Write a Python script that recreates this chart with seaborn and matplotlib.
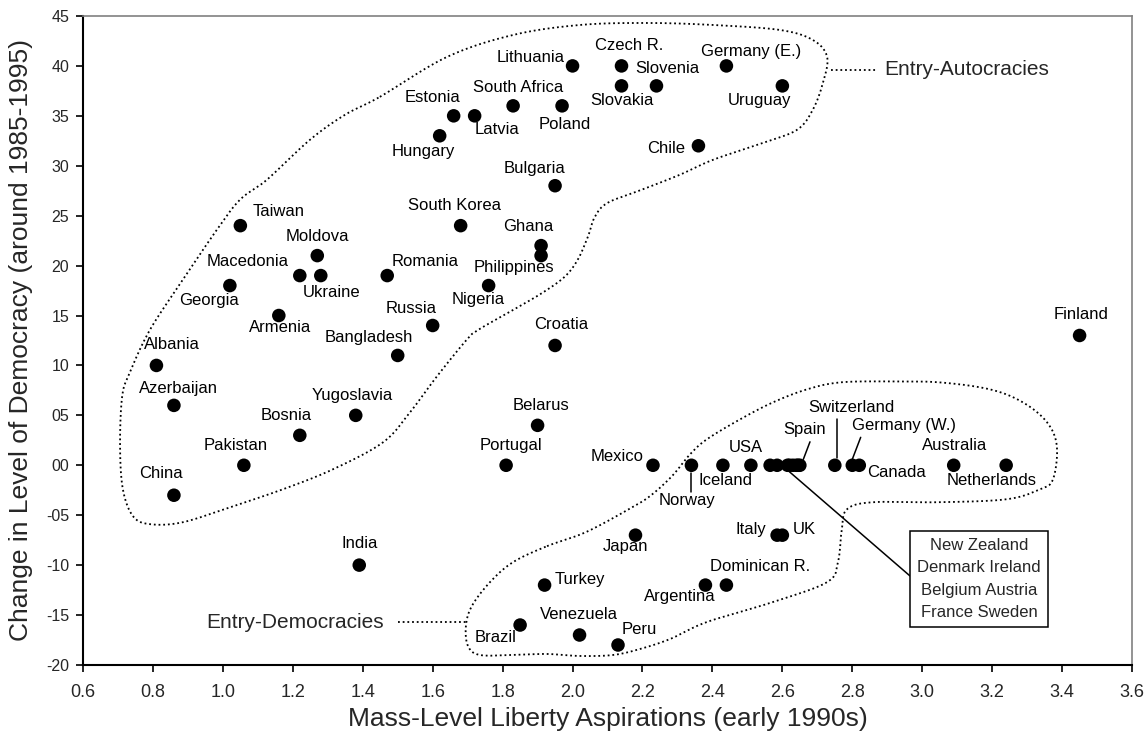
import numpy as np
import pandas as pd
import matplotlib
matplotlib.use("Agg")
import matplotlib.pyplot as plt
from matplotlib.ticker import FuncFormatter, MultipleLocator
import seaborn as sns

# --- data ---
countries = [
    "Lithuania", "Czech R.", "Slovakia", "Slovenia", "Germany (E.)", "Uruguay",
    "Chile", "Poland", "South Africa", "Latvia", "Estonia", "Hungary",
    "Bulgaria", "Taiwan", "South Korea", "Ghana", "Philippines", "Moldova",
    "Macedonia", "Ukraine", "Romania", "Georgia", "Nigeria", "Armenia",
    "Russia", "Croatia", "Bangladesh", "Albania", "Finland", "Azerbaijan",
    "Yugoslavia", "Belarus", "Bosnia", "Pakistan", "Portugal", "China",
    "India", "Mexico", "Norway", "Iceland", "USA", "New Zealand", "Denmark",
    "Ireland", "Belgium", "Austria", "France", "Sweden", "Spain",
    "Switzerland", "Germany (W.)", "Canada", "Australia", "Netherlands",
    "Japan", "Italy", "UK", "Argentina", "Dominican R.", "Turkey", "Brazil",
    "Venezuela", "Peru",
]
liberty = [
    2.00, 2.14, 2.14, 2.24, 2.44, 2.60,
    2.36, 1.97, 1.83, 1.72, 1.66, 1.62,
    1.95, 1.05, 1.68, 1.91, 1.91, 1.27,
    1.22, 1.28, 1.47, 1.02, 1.76, 1.16,
    1.60, 1.95, 1.50, 0.81, 3.45, 0.86,
    1.38, 1.90, 1.22, 1.06, 1.81, 0.86,
    1.39, 2.23, 2.34, 2.43, 2.51, 2.565, 2.585,
    2.615, 2.62, 2.63, 2.64, 2.645, 2.65,
    2.75, 2.80, 2.82, 3.09, 3.24,
    2.18, 2.585, 2.60, 2.38, 2.44, 1.92, 1.85,
    2.02, 2.13,
]
democracy_change = [
    40, 40, 38, 38, 40, 38,
    32, 36, 36, 35, 35, 33,
    28, 24, 24, 22, 21, 21,
    19, 19, 19, 18, 18, 15,
    14, 12, 11, 10, 13, 6,
    5, 4, 3, 0, 0, -3,
    -10, 0, 0, 0, 0, 0, 0,
    0, 0, 0, 0, 0, 0,
    0, 0, 0, 0, 0,
    -7, -7, -7, -12, -12, -12, -16,
    -17, -18,
]
box_countries = "New Zealand\nDenmark Ireland\nBelgium Austria\nFrance Sweden"

# label offsets from the dot, in points: (dx, dy, ha)
label_offsets = {
    "Lithuania": (-5.5, 6.0, "right"),
    "Czech R.": (5.5, 14.6, "center"),
    "Slovakia": (0, -10.8, "center"),
    "Slovenia": (7.7, 12.2, "center"),
    "Germany (E.)": (17.6, 10.3, "center"),
    "Uruguay": (-16.2, -10.8, "center"),
    "Chile": (-9.4, -1.7, "right"),
    "Poland": (1.9, -13.2, "center"),
    "South Africa": (3.9, 13.5, "center"),
    "Latvia": (16.3, -10.1, "center"),
    "Estonia": (-15.3, 13.5, "center"),
    "Hungary": (-12, -11.3, "center"),
    "Bulgaria": (-14.6, 12.7, "center"),
    "Taiwan": (27.6, 10.3, "center"),
    "South Korea": (-4.2, 14.6, "center"),
    "Ghana": (-9.4, 13.9, "center"),
    "Philippines": (-19.9, -8.9, "center"),
    "Moldova": (0, 13.9, "center"),
    "Macedonia": (-7.8, 9.9, "right"),
    "Ukraine": (8.1, -12.5, "center"),
    "Romania": (3.3, 9.9, "left"),
    "Georgia": (-15.1, -10.6, "center"),
    "Nigeria": (-7.4, -10.1, "center"),
    "Armenia": (1.2, -8.6, "center"),
    "Russia": (-15.5, 12.0, "center"),
    "Croatia": (4.2, 15.1, "center"),
    "Bangladesh": (-20.9, 13.2, "center"),
    "Albania": (11.2, 15.1, "center"),
    "Finland": (0.7, 15.1, "center"),
    "Azerbaijan": (3.5, 12.2, "center"),
    "Yugoslavia": (-2.2, 14.4, "center"),
    "Belarus": (2.8, 14.6, "center"),
    "Bosnia": (-9.7, 14.4, "center"),
    "Pakistan": (-6.2, 13.9, "center"),
    "Portugal": (3.7, 13.9, "center"),
    "China": (-9.4, 15.3, "center"),
    "India": (0, 15.6, "center"),
    "Mexico": (-6.6, 6.0, "right"),
    "Norway": (-3.4, -25.7, "center"),
    "Iceland": (2.1, -11.3, "center"),
    "USA": (-4, 12.7, "center"),
    "Spain": (3.6, 25.9, "center"),
    "Switzerland": (12, 41.5, "center"),
    "Germany (W.)": (36.9, 28.3, "center"),
    "Canada": (5.3, -5.3, "left"),
    "Australia": (0.4, 13.9, "center"),
    "Netherlands": (-10.7, -11.3, "center"),
    "Japan": (-7.3, -8.0, "center"),
    "Italy": (-7.6, 3.8, "right"),
    "UK": (7.7, 3.8, "left"),
    "Dominican R.": (24.4, 13.5, "center"),
    "Argentina": (-18.6, -8.1, "center"),
    "Turkey": (7.5, 3.8, "left"),
    "Brazil": (-17.5, -8.9, "center"),
    "Venezuela": (-0.4, 15.1, "center"),
    "Peru": (15, 10.8, "center"),
}

# leader lines, offsets from the dot in data units: (dx0, dy0, dx1, dy1)
leaders = {
    "Norway": (0.0, -0.75, 0.0, -2.7),
    "Spain": (0.01, 0.6, 0.029, 2.35),
    "Switzerland": (0.005, 0.7, 0.005, 4.6),
    "Germany (W.)": (0.0, 0.6, 0.024, 2.8),
}

# hand drawn group outlines (data units)
autocracy_outline = [
    (1.449, 36.9), (1.641, 40.9), (1.830, 43.1), (2.021, 44.1), (2.213, 44.3),
    (2.402, 44.1), (2.593, 43.6), (2.687, 42.6), (2.728, 40.9), (2.716, 38.3),
    (2.687, 35.6), (2.642, 33.6), (2.545, 32.3), (2.402, 30.6), (2.307, 29.1),
    (2.198, 27.6), (2.101, 26.3), (2.064, 24.9), (2.044, 22.9), (2.015, 20.6),
    (1.978, 18.9), (1.915, 17.3), (1.832, 15.6), (1.732, 13.6), (1.698, 12.6),
    (1.612, 8.9), (1.535, 5.3), (1.458, 2.3), (1.315, -0.4), (1.172, -2.4),
    (1.029, -4.1), (0.886, -5.7), (0.792, -5.9), (0.743, -5.1), (0.714, -2.4),
    (0.706, 1.9), (0.712, 6.9), (0.734, 9.3), (0.792, 13.6), (0.886, 18.6),
    (0.983, 23.6), (1.049, 26.6), (1.126, 28.6), (1.249, 32.6), (1.349, 35.1),
]
democracy_outline = [
    (1.927, -8.1), (2.038, -6.7), (2.161, -4.4), (2.221, -3.1), (2.284, -1.1),
    (2.336, 1.1), (2.384, 2.6), (2.479, 4.6), (2.573, 6.3), (2.670, 7.6),
    (2.765, 8.3), (2.908, 8.4), (3.051, 8.3), (3.194, 7.6), (3.288, 6.3),
    (3.357, 4.3), (3.385, 1.9), (3.374, -1.4), (3.337, -2.4), (3.242, -3.4),
    (3.051, -3.7), (2.859, -3.7), (2.785, -4.4), (2.770, -6.4), (2.759, -9.7),
    (2.728, -11.7), (2.573, -13.7), (2.384, -15.7), (2.279, -17.4),
    (2.193, -18.4), (2.116, -19.0), (2.021, -19.1), (1.927, -18.9),
    (1.830, -19.0), (1.735, -19.0), (1.701, -18.1), (1.695, -16.1),
    (1.712, -14.1), (1.764, -11.7), (1.830, -9.7),
]


def smooth_closed(pts, n=24):
    # closed catmull-rom curve through the outline points
    P = np.array(pts, dtype=float)
    N = len(P)
    t = np.linspace(0, 1, n, endpoint=False)[:, None]
    segs = []
    for i in range(N):
        p0, p1, p2, p3 = P[i - 1], P[i], P[(i + 1) % N], P[(i + 2) % N]
        segs.append(0.5 * (2 * p1 + (-p0 + p2) * t
                           + (2 * p0 - 5 * p1 + 4 * p2 - p3) * t ** 2
                           + (-p0 + 3 * p1 - 3 * p2 + p3) * t ** 3))
    out = np.vstack(segs)
    return np.vstack([out, out[:1]])


def main():
    df = pd.DataFrame({"country": countries, "liberty": liberty,
                       "change": democracy_change})

    sns.set_style("ticks")
    plt.rcParams["font.family"] = ["Liberation Sans", "DejaVu Sans"]

    fig = plt.figure(figsize=(11.48, 7.40), dpi=100)
    ax = fig.add_axes([0.0723, 0.1014, 0.9138, 0.877])

    sns.scatterplot(data=df, x="liberty", y="change", color="black", s=95,
                    edgecolor="none", linewidth=0, ax=ax, zorder=3, legend=False)

    dotted = (0, (1, 1.6))
    for outline in (autocracy_outline, democracy_outline):
        c = smooth_closed(outline)
        ax.plot(c[:, 0], c[:, 1], color="black", lw=1.3, ls=dotted, zorder=2)

    pos = df.set_index("country")
    for name, (dx, dy, ha) in label_offsets.items():
        x, y = pos.loc[name, "liberty"], pos.loc[name, "change"]
        ax.annotate(name, (x, y), xytext=(dx, dy), textcoords="offset points",
                    ha=ha, va="center", fontsize=12, color="black")

    for name, (dx0, dy0, dx1, dy1) in leaders.items():
        x, y = pos.loc[name, "liberty"], pos.loc[name, "change"]
        ax.plot([x + dx0, x + dx1], [y + dy0, y + dy1], color="black", lw=1.1)

    # box for the crowded cluster at 0
    ax.annotate(box_countries, xy=(2.612, -0.4), xytext=(3.163, -11.4),
                ha="center", va="center", multialignment="center",
                fontsize=12, linespacing=1.6,
                bbox=dict(boxstyle="square,pad=0.42", fc="white", ec="black", lw=1.1),
                arrowprops=dict(arrowstyle="-", color="black", lw=1.1,
                                shrinkA=0, shrinkB=0, relpos=(0, 0.46)))

    # group names
    ax.plot([2.74, 2.87], [39.6, 39.6], color="black", lw=1.3, ls=dotted)
    ax.text(2.89, 39.6, "Entry-Autocracies", ha="left", va="center", fontsize=15)
    ax.plot([1.50, 1.70], [-15.7, -15.7], color="black", lw=1.3, ls=dotted)
    ax.text(1.46, -15.7, "Entry-Democracies", ha="right", va="center", fontsize=15)

    ax.set_xlim(0.6, 3.6)
    ax.set_ylim(-20, 45)
    ax.xaxis.set_major_locator(MultipleLocator(0.2))
    ax.yaxis.set_major_locator(MultipleLocator(5))
    ax.xaxis.set_major_formatter(FuncFormatter(lambda v, p: f"{v:.1f}"))
    ax.yaxis.set_major_formatter(FuncFormatter(
        lambda v, p: f"{int(round(v)):02d}" if v >= 0 else f"-{abs(int(round(v))):02d}"))

    ax.tick_params(axis="both", direction="out", length=5, width=1.2, color="black")
    ax.tick_params(axis="x", labelsize=13, pad=9)
    ax.tick_params(axis="y", labelsize=11.5, pad=5)

    for side in ("left", "bottom"):
        ax.spines[side].set_color("black")
        ax.spines[side].set_linewidth(1.5)
    for side in ("top", "right"):
        ax.spines[side].set_visible(True)
        ax.spines[side].set_color("#808080")
        ax.spines[side].set_linewidth(1.2)

    ax.set_xlabel("Mass-Level Liberty Aspirations (early 1990s)", fontsize=19, labelpad=4)
    ax.set_ylabel("Change in Level of Democracy (around 1985-1995)", fontsize=19, labelpad=9)

    fig.savefig("out.png", dpi=100, facecolor="white")
    plt.close(fig)


if __name__ == "__main__":
    main()
